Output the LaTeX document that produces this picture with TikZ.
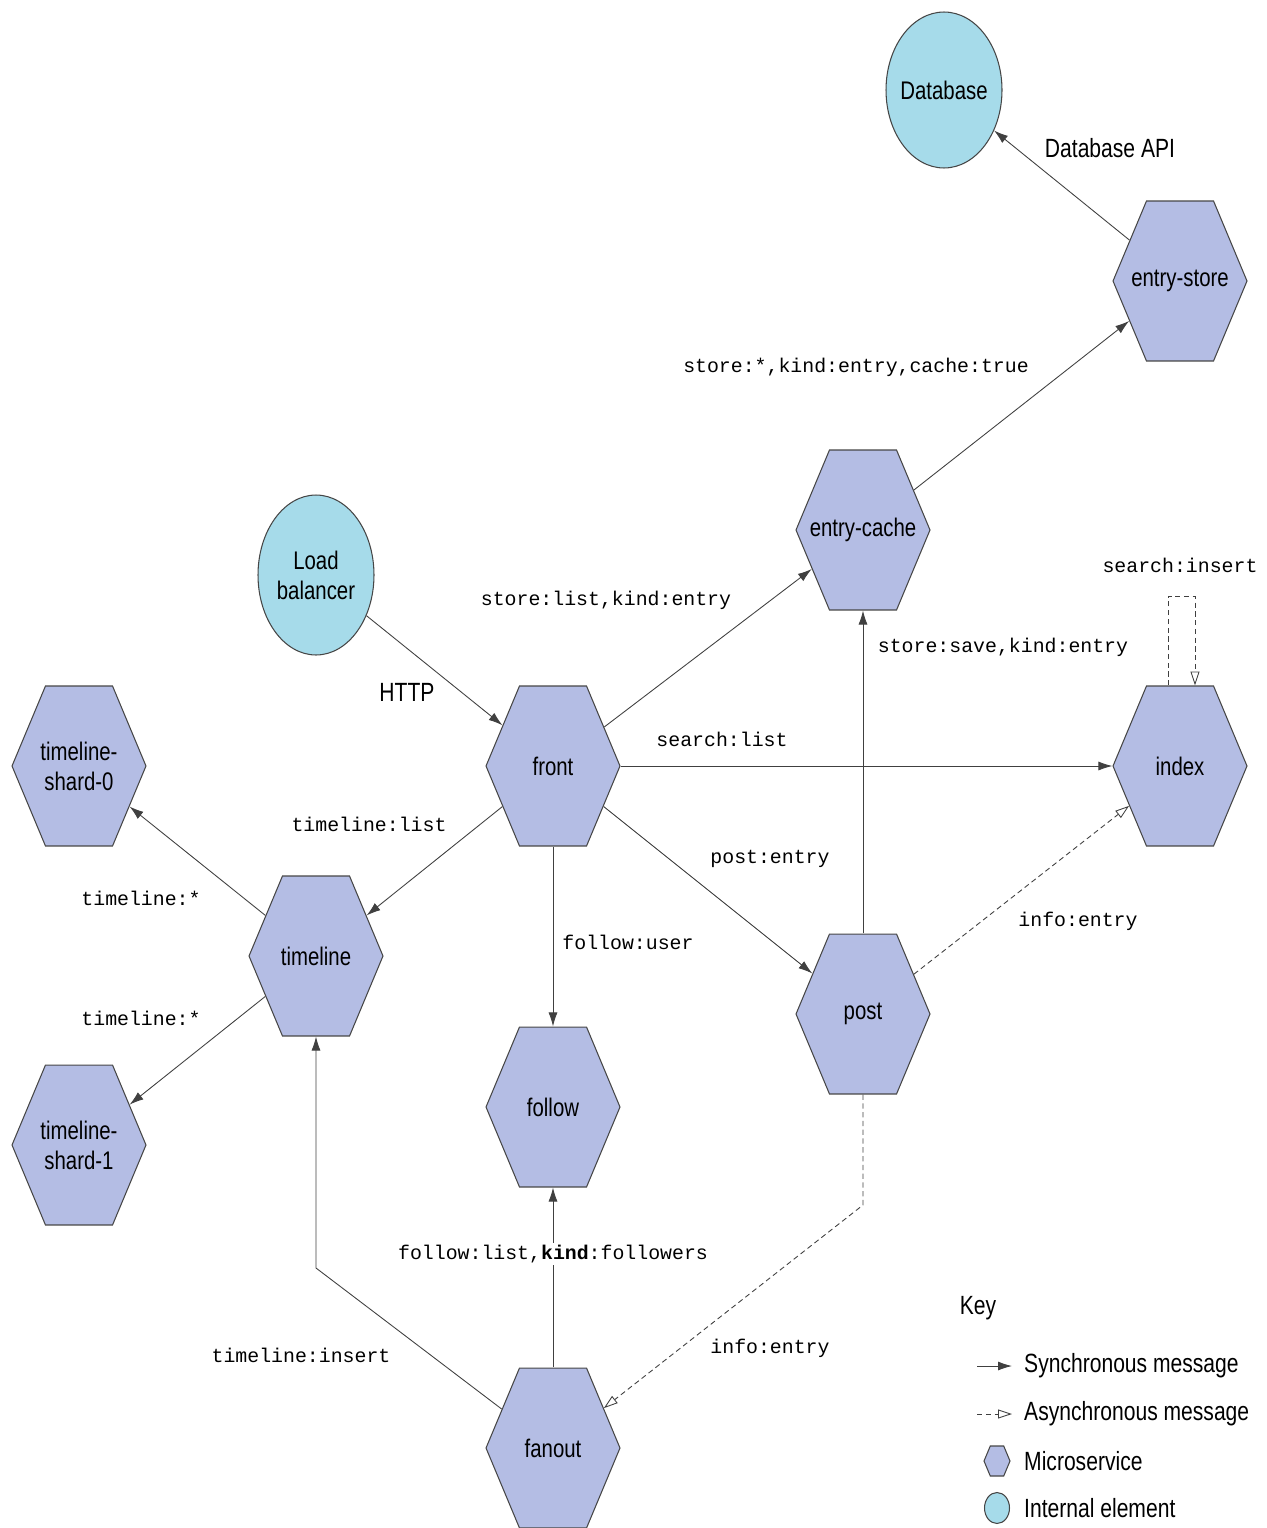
\documentclass[tikz,border=0pt]{standalone}
\usepackage{fontspec}
\setmonofont{Liberation Mono}
\newfontfamily\narrowsf[FakeStretch=0.8]{Liberation Sans}
\usetikzlibrary{shapes.symbols,shapes.geometric,arrows.meta}

\definecolor{svcfill}{RGB}{180,189,228}
\definecolor{elemfill}{RGB}{166,219,234}
\definecolor{edgegray}{RGB}{70,70,70}

\tikzset{
  svcshape/.style={signal, signal to=east and west, signal pointer angle=134.6,
    draw=edgegray, fill=svcfill, line width=0.6pt, inner sep=0pt,
    minimum width=2.68cm, minimum height=3.2cm},
  svc/.style={svcshape, label={[svctext]center:#1}},
  svctext/.style={align=center, inner sep=0pt,
    font=\narrowsf\fontsize{14.5}{17}\selectfont},
  elemshape/.style={ellipse, draw=edgegray, fill=elemfill, line width=0.6pt,
    inner sep=0pt, minimum width=2.32cm, minimum height=3.12cm},
  elem/.style={elemshape, label={[svctext]center:#1}},
  sync/.style={draw=black!75, line width=0.5pt,
    -{Latex[length=0.28cm,width=0.18cm]}},
  async/.style={draw=black!75, line width=0.5pt, dash pattern=on 3pt off 2pt,
    -{Triangle[open,length=0.28cm,width=0.18cm]}},
  msg/.style={font=\ttfamily\fontsize{11.3}{13}\selectfont},
  lbl/.style={font=\narrowsf\fontsize{15}{18}\selectfont}
}

\begin{document}
\begin{tikzpicture}[x=0.02cm, y=-0.02cm]
  \useasboundingbox (0,0) rectangle (1267,1528);

  % internal elements
  \node[elem={Database}] (db) at (944,90) {};
  \node[elem={Load\\balancer}, minimum height=3.2cm] (lb) at (316,575) {};

  % microservices
  \node[svc={entry-store}]       (store)  at (1180,281)  {};
  \node[svc={entry-cache}]       (cache)  at (863,530)   {};
  \node[svc={index}]             (index)  at (1180,766)  {};
  \node[svc={front}]             (front)  at (553,766)   {};
  \node[svc={timeline-\\shard-0}] (shard0) at (79,766)   {};
  \node[svc={timeline}]          (tline)  at (316,956)   {};
  \node[svc={timeline-\\shard-1}] (shard1) at (79,1145)  {};
  \node[svc={follow}]            (follow) at (553,1107)  {};
  \node[svc={post}]              (post)   at (863,1014)  {};
  \node[svc={fanout}]            (fanout) at (553,1448)  {};

  % bends
  \coordinate (fbend) at (316,1268);
  \coordinate (pbend) at (863,1205);
  \coordinate (iloopa) at (1168,596);
  \coordinate (iloopb) at (1195,596);

  % synchronous messages
  \draw[sync] (store) -- (db);
  \draw[sync] (cache) -- (store);
  \draw[sync] (front) -- (cache);
  \draw[sync] (lb) -- (front);
  \draw[sync] (front) -- (index);
  \draw[sync] (post) -- (cache);
  \draw[sync] (front) -- (post);
  \draw[sync] (front) -- (tline);
  \draw[sync] (tline) -- (shard0);
  \draw[sync] (tline) -- (shard1);
  \draw[sync] (front) -- (follow);
  \draw[sync] (fanout) -- (follow);
  \draw[sync] (fanout) -- (fbend) -- (tline);

  % asynchronous messages
  \draw[async] (post) -- (index);
  \draw[async] (post) -- (pbend) -- (fanout);
  \draw[async] (index.north -| iloopa) -- (iloopa) -- (iloopb)
        -- (index.north -| iloopb);

  % labels
  \node[lbl] (l-dbapi) at (1110,148) {Database API};
  \node[lbl] (l-http)  at (407,692)  {HTTP};
  \node[msg] (l-cstore) at (856,367)  {store:*,kind:entry,cache:true};
  \node[msg] (l-slist)  at (606,600)  {store:list,kind:entry};
  \node[msg] (l-sins)   at (1180,565) {search:insert};
  \node[msg] (l-ssave)  at (1003,647) {store:save,kind:entry};
  \node[msg] (l-srch)   at (722,739)  {search:list};
  \node[msg] (l-tlist)  at (369,824)  {timeline:list};
  \node[msg] (l-post)   at (770,859)  {post:entry};
  \node[msg] (l-tsh0)   at (141,898)  {timeline:*};
  \node[msg] (l-info1)  at (1078,921) {info:entry};
  \node[msg] (l-fuser)  at (628,942)  {follow:user};
  \node[msg] (l-tsh1)   at (141,1018) {timeline:*};
  \node[msg, fill=white, inner sep=1pt] (l-flist) at (553,1254)
        {follow:list,\textbf{kind}:followers};
  \node[msg] (l-tins)   at (301,1355) {timeline:insert};
  \node[msg] (l-info2)  at (770,1348) {info:entry};

  % key
  \node[lbl] (key) at (978,1308) {Key};
  \coordinate (ks1) at (977,1366);  \coordinate (ke1) at (1012,1366);
  \coordinate (ks2) at (977,1414);  \coordinate (ke2) at (1012,1414);
  \draw[sync] (ks1) -- (ke1);
  \draw[async] (ks2) -- (ke2);
  \node[svcshape, minimum width=0.52cm, minimum height=0.6cm] (ksvc) at (997,1461) {};
  \node[elemshape, minimum width=0.5cm, minimum height=0.62cm] (kelem) at (997,1508) {};
  \node[lbl, anchor=west] (k-sync)  at (1018,1366) {Synchronous message};
  \node[lbl, anchor=west] (k-async) at (1018,1414) {Asynchronous message};
  \node[lbl, anchor=west] (k-svc)   at (1018,1461) {Microservice};
  \node[lbl, anchor=west] (k-elem)  at (1018,1508) {Internal element};
\end{tikzpicture}
\end{document}
